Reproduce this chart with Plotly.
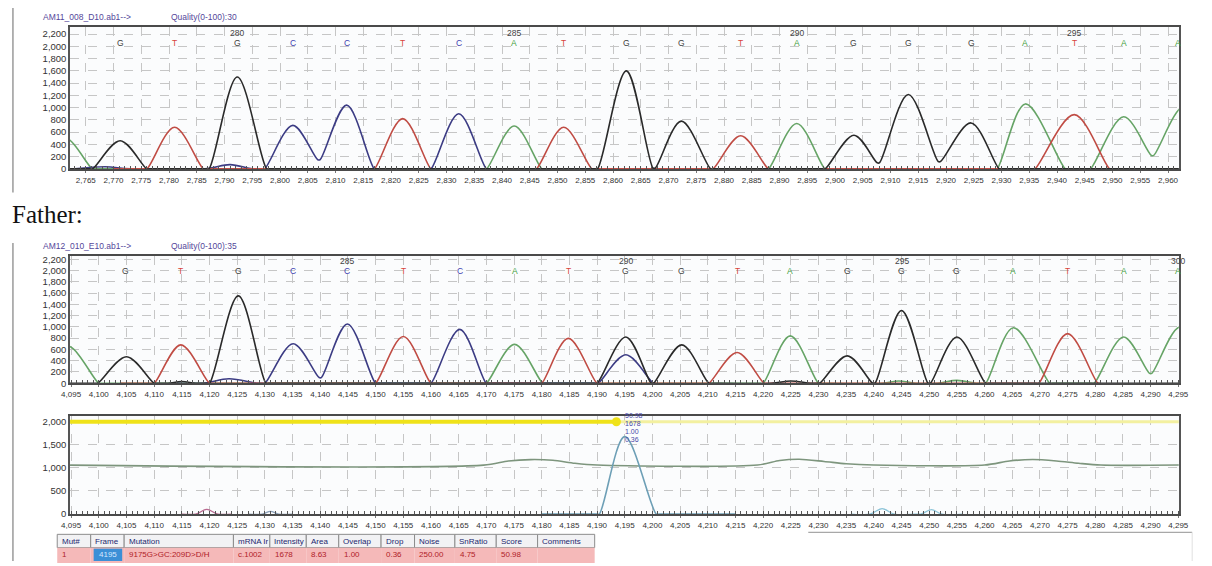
import plotly.graph_objects as go

W, H = 1212, 566

# ---------------- Panel 1: AM11_008_D10 chromatogram ----------------
p1_bases = ["G", "T", "G", "C", "C", "T", "C", "A", "T", "G",
            "G", "T", "A", "G", "G", "G", "A", "T", "A", "A"]
p1_base_x = [2771.2, 2781.0, 2792.3, 2802.3, 2812.0, 2822.1, 2832.2, 2842.2, 2851.1, 2862.4,
             2872.3, 2883.0, 2893.1, 2903.4, 2913.2, 2924.5, 2934.3, 2943.1, 2952.0, 2961.8]
p1_pos_labels = ["280", "285", "290", "295"]
p1_pos_x = [2792.3, 2842.2, 2893.1, 2943.1]

p1_G_x = [2758.0, 2765.7, 2766.2, 2771.2, 2776.0, 2776.5, 2786.7, 2787.2, 2792.3, 2797.6,
          2798.1, 2856.7, 2857.2, 2862.4, 2867.2, 2867.6, 2872.3, 2877.6, 2878.1, 2897.7,
          2898.2, 2903.4, 2907.6, 2908.0, 2913.2, 2918.6, 2919.0, 2924.5, 2929.6, 2930.1,
          2966.0]
p1_G_y = [0, 0, 0, 460, 0, 0, 0, 0, 1500, 0,
          0, 0, 0, 1600, 15, 15, 780, 0, 0, 0,
          0, 550, 100, 100, 1215, 120, 120, 750, 0, 0,
          0]
p1_A_x = [2755.0, 2761.0, 2766.2, 2766.7, 2836.7, 2837.2, 2842.2, 2847.2, 2847.7, 2887.5,
          2888.0, 2893.1, 2898.2, 2898.7, 2928.7, 2929.2, 2934.3, 2941.5, 2942.0, 2945.5,
          2946.0, 2952.0, 2957.0, 2957.4, 2963.0, 2969.0]
p1_A_y = [0, 520, 0, 0, 0, 0, 700, 0, 0, 0,
          0, 740, 0, 0, 0, 0, 1060, 0, 0, 0,
          0, 850, 220, 220, 1030, 0]
p1_T_x = [2770.0, 2775.5, 2776.0, 2781.0, 2786.2, 2786.7, 2816.5, 2817.0, 2822.1, 2827.2,
          2827.7, 2845.7, 2846.2, 2851.1, 2856.2, 2856.7, 2877.5, 2878.0, 2883.0, 2888.0,
          2888.5, 2935.5, 2936.0, 2943.1, 2949.5, 2950.0]
p1_T_y = [0, 0, 0, 680, 0, 0, 0, 0, 820, 0,
          0, 0, 0, 680, 0, 0, 0, 0, 540, 0,
          0, 0, 0, 885, 0, 0]
p1_C_x = [2763.0, 2768.5, 2773.0, 2786.5, 2791.0, 2795.0, 2796.7, 2797.2, 2802.3, 2806.8,
          2807.2, 2812.0, 2817.0, 2817.5, 2826.7, 2827.2, 2832.2, 2837.2, 2837.7, 2850.0]
p1_C_y = [0, 35, 0, 0, 70, 0, 0, 0, 710, 150,
          150, 1040, 0, 0, 0, 0, 900, 0, 0, 0]

# ---------------- Panel 2: Father AM12_010_E10 chromatogram ----------------
p2_bases = ["G", "T", "G", "C", "C", "T", "C", "A", "T", "G",
            "G", "T", "A", "G", "G", "G", "A", "T", "A", "A"]
p2_base_x = [4104.9, 4114.8, 4125.2, 4135.1, 4144.9, 4155.0, 4165.2, 4175.1, 4184.8, 4195.2,
             4205.3, 4215.3, 4224.9, 4235.2, 4245.0, 4255.0, 4265.2, 4275.0, 4285.1, 4295.0]
p2_pos_labels = ["285", "290", "295", "300"]
p2_pos_x = [4144.9, 4195.2, 4245.0, 4295.0]

p2_G_x = [4094.0, 4099.3, 4099.8, 4105.0, 4110.0, 4110.5, 4112.5, 4115.0, 4117.5, 4119.5,
          4120.0, 4125.2, 4130.2, 4130.7, 4189.5, 4190.0, 4195.2, 4199.8, 4200.2, 4205.3,
          4210.2, 4210.7, 4221.5, 4225.0, 4228.5, 4229.7, 4230.2, 4235.2, 4239.8, 4240.2,
          4245.0, 4249.8, 4250.2, 4255.0, 4260.2, 4260.7, 4300.0]
p2_G_y = [0, 0, 0, 470, 0, 0, 0, 30, 0, 0,
          0, 1550, 0, 0, 0, 0, 820, 0, 0, 680,
          0, 0, 0, 40, 0, 0, 0, 486, 0, 0,
          1290, 0, 0, 820, 0, 0, 0]
p2_A_x = [4089.0, 4094.3, 4100.0, 4100.5, 4169.5, 4170.0, 4175.1, 4180.2, 4180.7, 4219.5,
          4220.0, 4224.9, 4230.0, 4230.5, 4241.5, 4244.5, 4247.5, 4251.5, 4255.0, 4258.5,
          4259.7, 4260.2, 4265.2, 4271.8, 4272.3, 4279.3, 4279.8, 4285.1, 4289.8, 4290.2,
          4295.4, 4301.0]
p2_A_y = [0, 660, 0, 0, 0, 0, 690, 0, 0, 0,
          0, 840, 0, 0, 0, 40, 0, 0, 50, 0,
          0, 0, 985, 0, 0, 0, 0, 820, 175, 175,
          1000, 0]
p2_T_x = [4104.0, 4109.5, 4110.0, 4114.8, 4120.0, 4120.5, 4149.5, 4150.0, 4155.0, 4160.0,
          4160.5, 4179.5, 4180.0, 4184.8, 4190.0, 4190.5, 4209.7, 4210.2, 4215.3, 4220.2,
          4220.7, 4269.3, 4269.8, 4275.0, 4280.5, 4281.0]
p2_T_y = [0, 0, 0, 680, 0, 0, 0, 0, 830, 0,
          0, 0, 0, 795, 0, 0, 0, 0, 545, 0,
          0, 0, 0, 880, 0, 0]
p2_C_x = [4114.0, 4119.0, 4123.5, 4128.5, 4129.5, 4130.0, 4135.1, 4139.8, 4140.2, 4144.9,
          4150.0, 4150.5, 4159.5, 4160.0, 4165.2, 4170.0, 4170.5, 4189.7, 4190.2, 4195.2,
          4200.2, 4200.7]
p2_C_y = [0, 0, 80, 0, 0, 0, 700, 100, 100, 1050,
          0, 0, 0, 0, 955, 0, 0, 0, 0, 505,
          0, 0]

# ---------------- Panel 3: mutation score panel ----------------
p3_thr_x = [4094.8, 4193.5]
p3_thr_y = [2000, 2000]
p3_thr_rest_x = [4193.5, 4295.1]
p3_thr_rest_y = [2000, 2000]
p3_noise_x = [4094.8, 4169.5, 4174.0, 4178.0, 4182.0, 4186.0, 4190.0, 4219.0, 4223.0, 4226.5,
              4231.0, 4235.0, 4240.0, 4260.0, 4264.5, 4268.7, 4273.0, 4277.0, 4281.0, 4295.1]
p3_noise_y = [1060, 1060, 1150, 1180, 1165, 1100, 1062, 1062, 1160, 1187,
              1140, 1090, 1062, 1062, 1150, 1181, 1150, 1100, 1062, 1062]
p3_sig_x = [4180.0, 4189.9, 4190.4, 4195.0, 4200.7, 4201.2, 4215.0]
p3_sig_y = [0, 0, 0, 1678, 0, 0, 0]
p3_small1_x = [4115.0, 4117.5, 4119.5, 4121.5, 4124.0]
p3_small1_y = [0, 0, 100, 0, 0]
p3_small2_x = [4127.0, 4129.5, 4131.0, 4132.5, 4135.0]
p3_small2_y = [0, 0, 60, 0, 0]
p3_small3_x = [4236.0, 4239.3, 4241.5, 4243.7, 4247.5, 4248.5, 4250.4, 4252.3, 4256.0]
p3_small3_y = [0, 0, 120, 0, 0, 0, 96, 0, 0]
p3_marker_x = [4193.5]
p3_marker_y = [2000]
p3_labels = ["50.98", "1678", "1.00", "0.36"]

# ---------------- Results table ----------------
tbl_headers = ["Mut#", "Frame", "Mutation", "mRNA Ir", "Intensity", "Area", "Overlap",
               "Drop", "Noise", "SnRatio", "Score", "Comments"]
tbl_row = ["1", "4195", "9175G&gt;GC:209D&gt;D/H", "c.1002", "1678", "8.63", "1.00",
           "0.36", "250.00", "4.75", "50.98", ""]

# ---------------- styling ----------------
trace_color = {"G": "#2a2a2a", "A": "#66a466", "T": "#c04c44", "C": "#3c3c84"}
letter_color = {"G": "#404040", "A": "#3f9f3f", "T": "#d8443c", "C": "#3c3cb0"}
FONT = "Liberation Sans"


def fx(p):
    return p / W


def fy(p):
    return 1 - p / H


fig = go.Figure()


def add_channels(chans, xa, ya):
    for base, xs, ys in chans:
        fig.add_trace(go.Scatter(x=xs, y=ys, mode="lines", xaxis=xa, yaxis=ya,
                                 line=dict(color=trace_color[base], width=1.6,
                                           shape="spline", smoothing=1.0),
                                 hoverinfo="skip", showlegend=False))


add_channels([("A", p1_A_x, p1_A_y), ("C", p1_C_x, p1_C_y), ("T", p1_T_x, p1_T_y),
              ("G", p1_G_x, p1_G_y)], "x", "y")
add_channels([("A", p2_A_x, p2_A_y), ("C", p2_C_x, p2_C_y), ("T", p2_T_x, p2_T_y),
              ("G", p2_G_x, p2_G_y)], "x2", "y2")

# panel 3 traces
fig.add_trace(go.Scatter(x=p3_thr_rest_x, y=p3_thr_rest_y, mode="lines", xaxis="x3", yaxis="y3",
                         line=dict(color="#f3f0a0", width=3), hoverinfo="skip", showlegend=False))
fig.add_trace(go.Scatter(x=p3_thr_x, y=p3_thr_y, mode="lines", xaxis="x3", yaxis="y3",
                         line=dict(color="#efe21a", width=4), hoverinfo="skip", showlegend=False))
fig.add_trace(go.Scatter(x=p3_marker_x, y=p3_marker_y, mode="markers", xaxis="x3", yaxis="y3",
                         marker=dict(color="#efe21a", size=9), hoverinfo="skip", showlegend=False))
fig.add_trace(go.Scatter(x=p3_noise_x, y=p3_noise_y, mode="lines", xaxis="x3", yaxis="y3",
                         line=dict(color="#7d957d", width=1.6, shape="spline", smoothing=0.8),
                         hoverinfo="skip", showlegend=False))
fig.add_trace(go.Scatter(x=p3_sig_x, y=p3_sig_y, mode="lines", xaxis="x3", yaxis="y3",
                         line=dict(color="#6d9fb6", width=1.6, shape="spline", smoothing=1.0),
                         hoverinfo="skip", showlegend=False))
fig.add_trace(go.Scatter(x=p3_small1_x, y=p3_small1_y, mode="lines", xaxis="x3", yaxis="y3",
                         line=dict(color="#b86a90", width=1.3, shape="spline"),
                         hoverinfo="skip", showlegend=False))
fig.add_trace(go.Scatter(x=p3_small2_x, y=p3_small2_y, mode="lines", xaxis="x3", yaxis="y3",
                         line=dict(color="#8aa0b8", width=1.3, shape="spline"),
                         hoverinfo="skip", showlegend=False))
fig.add_trace(go.Scatter(x=p3_small3_x, y=p3_small3_y, mode="lines", xaxis="x3", yaxis="y3",
                         line=dict(color="#8cc4d8", width=1.3, shape="spline"),
                         hoverinfo="skip", showlegend=False))

# ---------------- axes ----------------
grid = dict(showgrid=True, gridcolor="#c6c6c6", griddash="dash", gridwidth=1)


def xaxis(dom, rng, t0, anchor):
    return dict(domain=dom, range=rng, tick0=t0, dtick=5, tickformat=",d", anchor=anchor,
                showline=True, mirror=True, linecolor="#4a4a4a", linewidth=2,
                ticks="outside", ticklen=2, tickcolor="#777",
                minor=dict(dtick=1, ticks="inside", ticklen=3, tickcolor="#555", showgrid=False),
                tickfont=dict(family=FONT, size=8, color="#333"), zeroline=False,
                fixedrange=True, **grid)


def yaxis(dom, rng, dt, anchor):
    return dict(domain=dom, range=rng, dtick=dt, tick0=0, tickformat=",d", anchor=anchor,
                showline=True, mirror=True, linecolor="#555", linewidth=1.5,
                ticks="", tickfont=dict(family=FONT, size=9.5, color="#333"),
                zeroline=False, fixedrange=True, **grid)


xdom = [fx(62), fx(1188.5)]
fig.update_layout(
    width=W, height=H, margin=dict(l=0, r=0, t=0, b=0),
    paper_bgcolor="white", plot_bgcolor="#fbfcfd",
    xaxis=xaxis(xdom, [2762.16, 2961.95], 2765, "y"),
    yaxis=yaxis([fy(169), fy(25)], [0, 2320], 200, "x"),
    xaxis2=xaxis(xdom, [4094.8, 4295.1], 4095, "y2"),
    yaxis2=yaxis([fy(386), fy(257)], [0, 2260], 200, "x2"),
    xaxis3=xaxis(xdom, [4094.8, 4295.1], 4095, "y3"),
    yaxis3=yaxis([fy(518.5), fy(419)], [0, 2128], 500, "x3"),
)

ann = []
shapes = []

# base letters and position numbers
for xs, bases, xr, yr, yl in [(p1_base_x, p1_bases, "x", "y", 2050),
                              (p2_base_x, p2_bases, "x2", "y2", 1985)]:
    for bx, b in zip(xs, bases):
        ann.append(dict(x=bx, y=yl, xref=xr, yref=yr, text=b, showarrow=False,
                        font=dict(family=FONT, size=8.5, color=letter_color[b])))
for xs, labs, xr, yr, yl in [(p1_pos_x, p1_pos_labels, "x", "y", 2225),
                             (p2_pos_x, p2_pos_labels, "x2", "y2", 2165)]:
    for bx, lab in zip(xs, labs):
        ann.append(dict(x=bx, y=yl, xref=xr, yref=yr, text=lab, showarrow=False,
                        font=dict(family=FONT, size=8.5, color="#444")))

# score labels on panel 3
for i, lab in enumerate(p3_labels):
    ann.append(dict(x=fx(624), y=fy(424 + i * 8.3), xref="paper", yref="paper", text=lab,
                    xanchor="left", showarrow=False,
                    font=dict(family=FONT, size=7, color="#4848a8")))

# headers
hdr_font = dict(family=FONT, size=8.5, color="#54479a")
for ytop, fname, q in [(15, "AM11_008_D10.ab1-->", "Quality(0-100):30"),
                       (247, "AM12_010_E10.ab1-->", "Quality(0-100):35")]:
    ann.append(dict(x=fx(33), y=fy(ytop), xref="paper", yref="paper", text=fname,
                    xanchor="left", yanchor="middle", showarrow=False, font=hdr_font))
    ann.append(dict(x=fx(163), y=fy(ytop), xref="paper", yref="paper", text=q,
                    xanchor="left", yanchor="middle", showarrow=False, font=hdr_font))

ann.append(dict(x=fx(1), y=fy(215), xref="paper", yref="paper", text="Father:",
                xanchor="left", yanchor="middle", showarrow=False,
                font=dict(family="Liberation Serif", size=25, color="#111")))

# frame lines
shapes.append(dict(type="line", xref="paper", yref="paper", x0=fx(4), x1=fx(4),
                   y0=fy(6), y1=fy(193), line=dict(color="#9a9a9a", width=1.5)))
shapes.append(dict(type="line", xref="paper", yref="paper", x0=fx(4), x1=fx(4),
                   y0=fy(244), y1=fy(566), line=dict(color="#9a9a9a", width=1.5)))
shapes.append(dict(type="line", xref="paper", yref="paper", x0=fx(812), x1=fx(1202),
                   y0=fy(537), y1=fy(537), line=dict(color="#a8a8a8", width=1.2)))
shapes.append(dict(type="line", xref="paper", yref="paper", x0=fx(1202), x1=fx(1202),
                   y0=fy(537), y1=fy(566), line=dict(color="#e0e0e0", width=1)))

# table
col_edges = [49, 83, 117, 228, 265, 302, 335, 378, 412, 453, 495, 537, 595]
hy0, hy1, ry1 = 539, 552.5, 566
for i, (h, v) in enumerate(zip(tbl_headers, tbl_row)):
    x0, x1 = col_edges[i], col_edges[i + 1]
    shapes.append(dict(type="rect", xref="paper", yref="paper", x0=fx(x0), x1=fx(x1),
                       y0=fy(hy1), y1=fy(hy0), fillcolor="#f2f2f4",
                       line=dict(color="#8c8c8c", width=1)))
    shapes.append(dict(type="rect", xref="paper", yref="paper", x0=fx(x0), x1=fx(x1),
                       y0=fy(ry1 + 2), y1=fy(hy1), fillcolor="#f5b9b9",
                       line=dict(color="#f5b9b9", width=0)))
    if h == "Frame":
        shapes.append(dict(type="rect", xref="paper", yref="paper", x0=fx(x0 + 3), x1=fx(x1 - 2),
                           y0=fy(ry1), y1=fy(hy1 + 1), fillcolor="#3b8fd6",
                           line=dict(width=0)))
    ann.append(dict(x=fx(x0 + 2.5), y=fy((hy0 + hy1) / 2), xref="paper", yref="paper",
                    text=h, xanchor="left", yanchor="middle", showarrow=False,
                    font=dict(family=FONT, size=8, color="#22276e")))
    if v:
        ann.append(dict(x=fx(x0 + 3 + (3 if h == "Frame" else 0)), y=fy((hy1 + ry1) / 2),
                        xref="paper", yref="paper", text=v, xanchor="left", yanchor="middle",
                        showarrow=False,
                        font=dict(family=FONT, size=8,
                                  color="#d8e8ff" if h == "Frame" else "#b01c28")))

fig.update_layout(annotations=ann, shapes=shapes)
fig.write_html("out.html")
